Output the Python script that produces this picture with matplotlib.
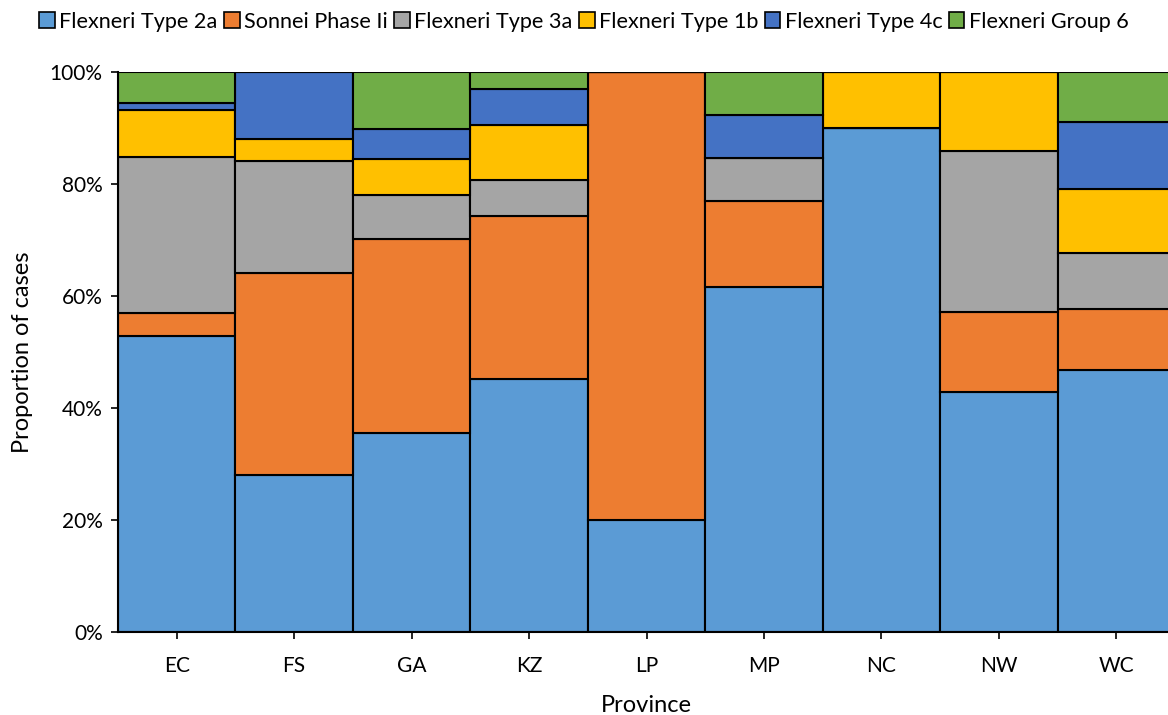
import matplotlib
matplotlib.use("Agg")
import matplotlib.pyplot as plt
import numpy as np
from matplotlib.ticker import PercentFormatter
from matplotlib.patches import Patch

provinces = ["EC", "FS", "GA", "KZ", "LP", "MP", "NC", "NW", "WC"]
series_names = ["Flexneri Type 2a", "Sonnei Phase Ii", "Flexneri Type 3a",
                "Flexneri Type 1b", "Flexneri Type 4c", "Flexneri Group 6"]
type_2a = [52.8, 28.0, 35.6, 45.2, 20.0, 61.5, 90.0, 42.9, 46.7]
sonnei = [4.2, 36.0, 34.5, 29.0, 80.0, 15.4, 0.0, 14.3, 11.0]
type_3a = [27.8, 20.0, 7.9, 6.5, 0.0, 7.7, 0.0, 28.6, 10.0]
type_1b = [8.3, 4.0, 6.4, 9.7, 0.0, 0.0, 10.0, 14.2, 11.4]
type_4c = [1.4, 12.0, 5.4, 6.5, 0.0, 7.7, 0.0, 0.0, 11.9]
group_6 = [5.5, 0.0, 10.2, 3.1, 0.0, 7.7, 0.0, 0.0, 9.0]
colors = ["#5B9BD5", "#ED7D31", "#A5A5A5", "#FFC000", "#4472C4", "#70AD47"]

plt.rcParams['font.family'] = ['Lato', 'DejaVu Sans']

fig = plt.figure(figsize=(11.68, 7.15), dpi=100)
ax = fig.add_axes([118/1168, 1 - 632/715, 1057/1168, (632-71.7)/715])

data = [type_2a, sonnei, type_3a, type_1b, type_4c, group_6]
x = np.arange(len(provinces))
bottom = np.zeros(len(provinces))
for name, vals, c in zip(series_names, data, colors):
    vals = np.array(vals)
    ax.bar(x, vals, bottom=bottom, width=1.0, color=c, edgecolor="black",
           linewidth=1.5, label=name)
    bottom += vals

ax.set_xlim(-0.5, len(provinces) - 0.5)
ax.set_ylim(0, 100)
ax.set_yticks(np.arange(0, 101, 20))
ax.yaxis.set_major_formatter(PercentFormatter(decimals=0))
ax.set_xticks(x)
ax.set_xticklabels(provinces)
for s in ["top", "right"]:
    ax.spines[s].set_visible(False)
for s in ["left", "bottom"]:
    ax.spines[s].set_linewidth(1.5)
    ax.spines[s].set_color("black")
ax.tick_params(axis="both", labelsize=15, length=5, width=1.2, color="black")
ax.tick_params(axis="x", pad=12)
ax.tick_params(axis="y", pad=6)
ax.set_xlabel("Province", fontsize=17, labelpad=14)
ax.set_ylabel("Proportion of cases", fontsize=17, labelpad=12)

handles = [Patch(facecolor=c, edgecolor="black", linewidth=1.2) for c in colors]
fig.legend(handles, series_names, loc="upper center", bbox_to_anchor=(0.5, 1.005),
           ncol=6, frameon=False, fontsize=15.6, handlelength=0.72, handleheight=0.72,
           handletextpad=0.2, columnspacing=0.3, borderaxespad=0.3)

fig.savefig("out.png", dpi=100)
